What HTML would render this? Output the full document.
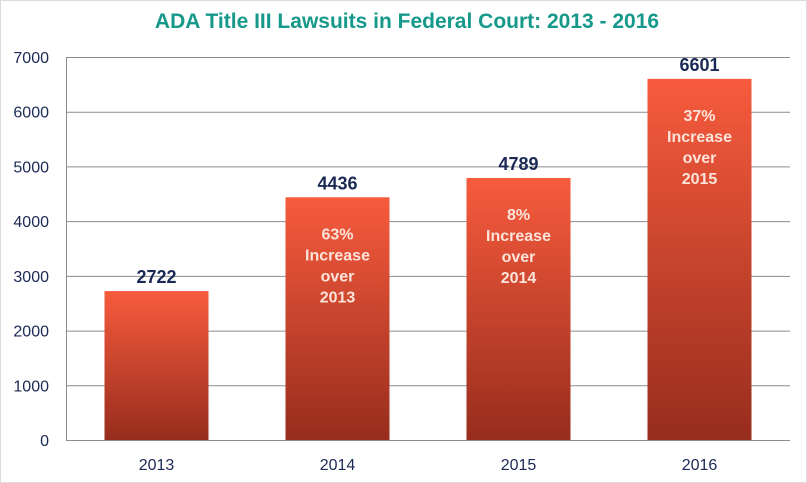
<!DOCTYPE html>
<html><head><meta charset="utf-8"><style>
body{margin:0;background:#fff;}
svg{display:block;font-family:"Liberation Sans",Arial,sans-serif;}
</style></head><body>
<svg width="807" height="483" viewBox="0 0 807 483">
<defs><linearGradient id="g" x1="0" y1="0" x2="0" y2="1"><stop offset="0" stop-color="#f75b3d"/><stop offset="1" stop-color="#972d1d"/></linearGradient></defs>
<rect x="0.5" y="0.5" width="806" height="482" fill="#fff" stroke="#d8dde2"/>
<text x="407" y="28" text-anchor="middle" font-size="21" font-weight="bold" fill="#16998a">ADA Title III  Lawsuits in Federal Court: 2013 - 2016</text>
<g id="grid"></g><g id="bars"></g>
</svg>
<script>
const categories=["2013","2014","2015","2016"];
const values=[2722,4436,4789,6601];
const ticks=[0,1000,2000,3000,4000,5000,6000,7000];
const notes=[[],["63%","Increase","over","2013"],["8%","Increase","over","2014"],["37%","Increase","over","2015"]];
const NS="http://www.w3.org/2000/svg";
const x0=66,x1=790,y0=440,yTop=57,vmax=7000;
const y=v=>y0-(v/vmax)*(y0-yTop);
const band=(x1-x0)/categories.length;
const bw=104;
function mk(t,a,p){const e=document.createElementNS(NS,t);for(const k in a)e.setAttribute(k,a[k]);p.appendChild(e);return e;}
const grid=document.getElementById('grid'),bars=document.getElementById('bars');
ticks.forEach(t=>{
 const l=mk('line',{x1:x0,x2:x1,y1:y(t)+0.5,y2:y(t)+0.5,stroke:'#8c8c8c','stroke-width':1},grid);
 
 
 const tx=mk('text',{x:49,y:y(t)+6,'text-anchor':'end','font-size':16,fill:'#1b2a55'},grid);
 tx.textContent=t;
 
 
});
const ax=mk('line',{x1:x0+0.5,x2:x0+0.5,y1:yTop,y2:y0,stroke:'#8c8c8c'},grid);


categories.forEach((c,i)=>{
 const cx=x0+band*(i+0.5);
 const r=mk('rect',{x:cx-bw/2,y:y(values[i]),width:bw,height:y0-y(values[i]),fill:'url(#g)'},bars);
 
 
 const v=mk('text',{x:cx,y:y(values[i])-8,'text-anchor':'middle','font-size':18,'font-weight':'bold',fill:'#1b2a55'},bars);
 v.textContent=values[i];
 
 
 const cl=mk('text',{x:cx,y:470,'text-anchor':'middle','font-size':16,fill:'#1b2a55'},bars);
 cl.textContent=c;
 
 
 notes[i].forEach((n,j)=>{
  const t=mk('text',{x:cx,y:y(values[i])+42+j*21,'text-anchor':'middle','font-size':16,'font-weight':'bold',fill:'#fde4da'},bars);
  t.textContent=n;
  
  
 });
});
</script>
</body></html>
